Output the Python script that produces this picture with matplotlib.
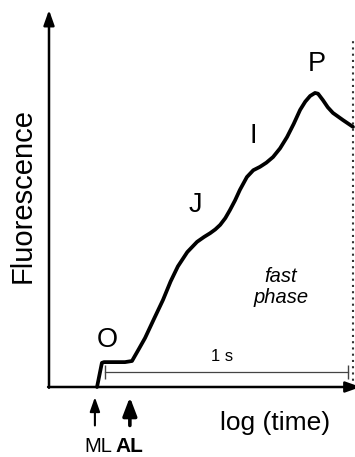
import matplotlib
matplotlib.use("Agg")
import matplotlib.pyplot as plt

plt.rcParams['font.family'] = ['Liberation Sans', 'DejaVu Sans']

# schematic OJIP transient, log(time) vs fluorescence (arbitrary units 0..10)
log_time = [1.58, 1.74, 1.81, 2.20, 2.50, 2.73, 2.95, 3.16, 3.45, 3.75, 4.00, 4.24,
            4.55, 4.87, 5.10, 5.30, 5.47, 5.63, 5.80, 5.95, 6.12, 6.28, 6.51, 6.72,
            6.94, 7.15, 7.37, 7.60, 7.83, 8.05, 8.26, 8.43, 8.59, 8.75, 8.85, 9.01,
            9.17, 9.34, 9.67, 10.0]
fluorescence = [0.00, 0.64, 0.66, 0.66, 0.66, 0.69, 1.00, 1.30, 1.80, 2.31, 2.80, 3.20,
                3.58, 3.85, 3.98, 4.08, 4.18, 4.30, 4.48, 4.69, 4.95, 5.23, 5.57, 5.75,
                5.84, 5.95, 6.10, 6.33, 6.63, 6.98, 7.35, 7.57, 7.72, 7.80, 7.78, 7.61,
                7.42, 7.27, 7.08, 6.90]

step_labels = ['O', 'J', 'I', 'P']
step_x = [1.91, 4.80, 6.71, 8.82]
step_y = [1.25, 4.83, 6.66, 8.57]

scale_bar = [1.84, 9.84]   # 1 s bar
scale_y = 0.40
ml_x = 1.51
al_x = 2.66
end_x = 10.0

fig = plt.figure(figsize=(3.55, 4.57), dpi=100)
ax = fig.add_axes([49 / 355, 70 / 457, 304 / 355, 377 / 457])
ax.set_xlim(0, 10)
ax.set_ylim(0, 10)
ax.axis('off')

# axes with arrow heads
ax.annotate('', xy=(0, 10.0), xytext=(0, -0.02),
            arrowprops=dict(arrowstyle='-|>,head_length=0.9,head_width=0.32', lw=1.8, color='black',
                            shrinkA=0, shrinkB=0), annotation_clip=False)
ax.annotate('', xy=(10.25, 0), xytext=(-0.03, 0),
            arrowprops=dict(arrowstyle='-|>,head_length=0.9,head_width=0.32', lw=1.8, color='black',
                            shrinkA=0, shrinkB=0), annotation_clip=False)

# end of fast phase
ax.plot([end_x, end_x], [0, 9.28], color='#333333', lw=1.5, linestyle=(0, (1, 2)), clip_on=False)

# curve
ax.plot(log_time, fluorescence, color='black', lw=2.7, solid_joinstyle='round',
        solid_capstyle='round', clip_on=False)

# 1 s scale bar
ax.plot(scale_bar, [scale_y, scale_y], color='#444444', lw=0.9, clip_on=False)
ax.plot(scale_bar, [scale_y, scale_y], linestyle='none', marker='|', markersize=10,
        markeredgewidth=1.0, color='#444444', clip_on=False)
ax.text(5.69, 0.80, '1 s', fontsize=12, ha='center', va='center')

for lab, x, y in zip(step_labels, step_x, step_y):
    ax.text(x, y, lab, fontsize=19.5, ha='center', va='center')

ax.text(7.63, 2.65, 'fast\nphase', fontsize=14.5, style='italic', ha='center', va='center',
        linespacing=1.15)

# light arrows
ax.annotate('', xy=(ml_x, -0.27), xytext=(ml_x, -1.02),
            arrowprops=dict(arrowstyle='-|>,head_length=0.85,head_width=0.3', lw=1.5, color='black',
                            shrinkA=0, shrinkB=0), annotation_clip=False)
ax.annotate('', xy=(al_x, -0.27), xytext=(al_x, -1.02),
            arrowprops=dict(arrowstyle='-|>,head_length=1.1,head_width=0.42', lw=2.6, color='black',
                            shrinkA=0, shrinkB=0), annotation_clip=False)
ax.text(1.61, -1.59, 'ML', fontsize=14.5, ha='center', va='center')
ax.text(al_x, -1.59, 'AL', fontsize=15, fontweight='bold', ha='center', va='center')

ax.text(7.43, -0.95, 'log (time)', fontsize=19, ha='center', va='center')
ax.text(-0.86, 5.07, 'Fluorescence', fontsize=21, rotation=90, ha='center', va='center')

fig.savefig('out.png', dpi=100)
